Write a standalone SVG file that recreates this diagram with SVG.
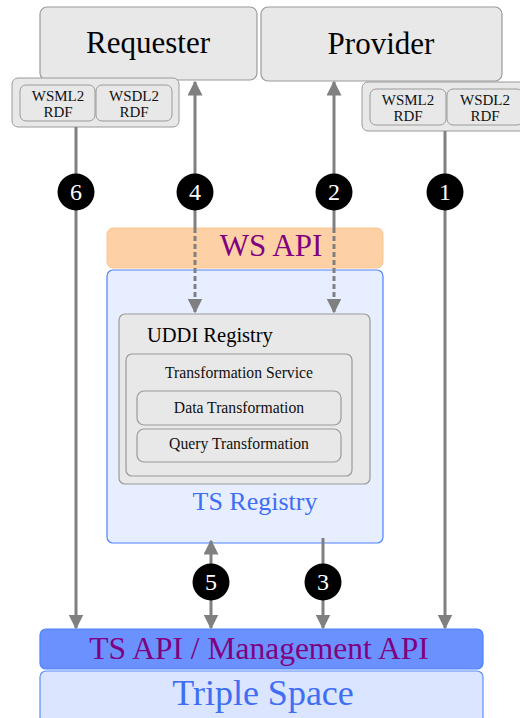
<svg xmlns="http://www.w3.org/2000/svg" width="520" height="718" viewBox="0 0 520 718" font-family="'Liberation Serif', 'Times New Roman', 'DejaVu Serif', serif">
  <defs>
    <marker id="ah" viewBox="0 0 10 10" refX="9" refY="5" markerWidth="5" markerHeight="5" markerUnits="strokeWidth" orient="auto-start-reverse">
      <path d="M0,0 L10,5 L0,10 z" fill="#808080"/>
    </marker>
  </defs>
  <style>
    text { font-family: "Liberation Serif", "Times New Roman", "DejaVu Serif", serif; text-anchor: middle; }
    .gray { fill: #e8e8e8; stroke: #9a9a9a; stroke-width: 1.2; }
    .conv { fill: #e8e8e8; stroke: #9a9a9a; stroke-width: 1; }
    .line { stroke: #808080; stroke-width: 3; fill: none; }
    .dash { stroke: #808080; stroke-width: 3; fill: none; stroke-dasharray: 5 3; }
    .badge { fill: #000; }
    .num { fill: #fff; font-size: 24px; }
    .small { font-size: 15px; fill: #111; }
    .inner { font-size: 15.7px; fill: #111; }
  </style>

  <g id="requester">
    <rect class="gray" x="40" y="7" width="217" height="73" rx="7"/>
    <text x="148" y="53" font-size="31">Requester</text>
  </g>
  <g id="provider">
    <rect class="gray" x="261" y="7" width="241" height="74" rx="7"/>
    <text x="381" y="54" font-size="31">Provider</text>
  </g>

  <g id="req-converters">
    <rect class="conv" x="12" y="78" width="167" height="49" rx="6"/>
    <rect class="conv" x="20" y="85" width="75" height="36" rx="6"/>
    <rect class="conv" x="96" y="85" width="76" height="36" rx="6"/>
    <text class="small" x="58" y="101">WSML2</text>
    <text class="small" x="58" y="117">RDF</text>
    <text class="small" x="134" y="101">WSDL2</text>
    <text class="small" x="134" y="117">RDF</text>
  </g>
  <g id="prov-converters">
    <rect class="conv" x="362" y="82" width="166" height="49" rx="6"/>
    <rect class="conv" x="370" y="89" width="76" height="36" rx="6"/>
    <rect class="conv" x="447" y="89" width="76" height="36" rx="6"/>
    <text class="small" x="408" y="105">WSML2</text>
    <text class="small" x="408" y="121">RDF</text>
    <text class="small" x="485" y="105">WSDL2</text>
    <text class="small" x="485" y="121">RDF</text>
  </g>

  <g id="ws-api">
    <rect x="107" y="228" width="276" height="40" rx="6" fill="#fdd1a5" stroke="#fcc690" stroke-width="1"/>
    <text x="271" y="256" font-size="31" fill="#800080">WS API</text>
  </g>

  <g id="ts-registry">
    <rect x="107" y="270" width="276" height="273" rx="6" fill="#e6eeff" stroke="#4f82ff" stroke-width="1.2"/>
    <text x="255" y="510" font-size="26" fill="#3f6ef3">TS Registry</text>
  </g>

  <g id="uddi-registry">
    <rect class="gray" x="119" y="314" width="251" height="170" rx="6"/>
    <text x="147" y="342" font-size="20.5" style="text-anchor:start">UDDI Registry</text>
  </g>
  <g id="transformation-service">
    <rect class="gray" x="126" y="354" width="226" height="122" rx="6"/>
    <text class="inner" x="239" y="378">Transformation Service</text>
  </g>
  <g id="data-transformation">
    <rect class="gray" x="137" y="391" width="204" height="34" rx="7"/>
    <text class="inner" x="239" y="413">Data Transformation</text>
  </g>
  <g id="query-transformation">
    <rect class="gray" x="137" y="429" width="204" height="33" rx="7"/>
    <text class="inner" x="239" y="449">Query Transformation</text>
  </g>

  <g id="ts-api">
    <rect x="40" y="629" width="443" height="40" rx="6" fill="#6b91ff" stroke="#4f82ff" stroke-width="1.2"/>
    <text x="259" y="659" font-size="31.5" fill="#800080">TS API / Management API</text>
  </g>
  <g id="triple-space">
    <rect x="40" y="671" width="443" height="52" rx="6" fill="#dbe5ff" stroke="#5b8cff" stroke-width="1.2"/>
    <text x="263" y="705" font-size="36" fill="#3f6ef3">Triple Space</text>
  </g>

  <!-- connectors, drawn over the API and registry panels -->
  <g id="connectors">
    <line class="line" x1="76" y1="127" x2="76" y2="628" marker-end="url(#ah)"/>
    <path class="line" d="M195,228 L195,82" marker-end="url(#ah)"/>
    <line class="dash" x1="195" y1="228" x2="195" y2="312" marker-end="url(#ah)"/>
    <path class="line" d="M334,228 L334,82" marker-end="url(#ah)"/>
    <line class="dash" x1="334" y1="228" x2="334" y2="312" marker-end="url(#ah)"/>
    <line class="line" x1="445" y1="131" x2="445" y2="628" marker-end="url(#ah)"/>
    <line class="line" x1="211" y1="541" x2="211" y2="628" marker-start="url(#ah)" marker-end="url(#ah)"/>
    <line class="line" x1="323" y1="538" x2="323" y2="628" marker-end="url(#ah)"/>
  </g>

  <!-- step badges -->
  <g id="step-6"><circle class="badge" cx="76" cy="192" r="18.5"/><text class="num" x="76" y="200">6</text></g>
  <g id="step-4"><circle class="badge" cx="195" cy="192" r="18.5"/><text class="num" x="195" y="200">4</text></g>
  <g id="step-2"><circle class="badge" cx="334" cy="192" r="18.5"/><text class="num" x="334" y="200">2</text></g>
  <g id="step-1"><circle class="badge" cx="445" cy="192" r="18.5"/><text class="num" x="445" y="200">1</text></g>
  <g id="step-5"><circle class="badge" cx="211" cy="582" r="18.5"/><text class="num" x="211" y="590">5</text></g>
  <g id="step-3"><circle class="badge" cx="323" cy="582" r="18.5"/><text class="num" x="323" y="590">3</text></g>
</svg>
